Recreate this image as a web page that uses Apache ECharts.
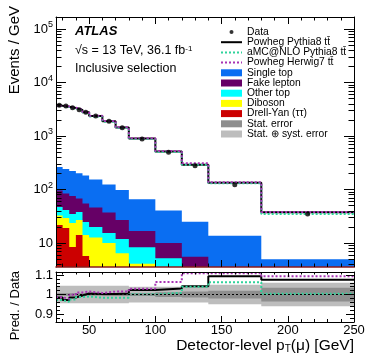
<!DOCTYPE html>
<html><head><meta charset="utf-8">
<script src="https://cdn.jsdelivr.net/npm/echarts@6/dist/echarts.min.js"></script>
<style>html,body{margin:0;padding:0;background:#fff}#c{width:374px;height:363px}</style>
</head><body><div id="c"></div><script>
// ---- data ----
const binEdges = [25,30,35,40,45,50,60,70,80,100,120,140,180,250];
const dataValues = [3750,3640,3380,3100,2770,2365,1885,1430,879,496,279,123,34.8];
const drellYan   = [21.7,19.1,8.4,14.1,5.7,2.8,2.0,1.5,1.0,0.8,0.5,0.3,0.2];
const diboson    = [11.0,10.2,15.2,12.8,8.4,9.9,8.0,4.9,3.1,2.4,2.0,1.2,0.6];
const otherTop   = [14.4,12.1,11.2,11.1,10.6,7.2,5.4,5.5,4.2,2.0,0.7,0.5,0.3];
const fakeLepton = [48.6,42.7,40.8,29.9,30.0,26.2,21.8,15.0,8.5,4.8,2.35,1.0,0.5];
const singleTop  = [168,157,146,133,128,108,87,71,49,30.5,19.5,10.6,3.35];
const ratioPowPy8 = [0.985,0.972,0.985,0.995,1.005,1.003,1.003,1.005,1.023,1.031,1.042,1.093,1.076];
const ratioAmcPy8 = [0.972,0.963,0.975,0.987,0.990,0.984,0.984,0.984,1.001,1.009,1.040,1.063,1.004];
const ratioPowH7  = [0.986,0.978,0.999,1.011,1.016,1.008,1.015,1.015,1.030,1.064,1.109,1.109,1.093];
const statErr = [0.006,0.006,0.006,0.006,0.006,0.006,0.007,0.008,0.008,0.012,0.015,0.02,0.035];
const totErr  = [0.045,0.045,0.045,0.045,0.045,0.045,0.045,0.045,0.04,0.04,0.04,0.05,0.06];
const xTickLabels = [50,100,150,200,250];
const yMainTickLabels = [10,100,1000,10000,100000];
const yRatioTickLabels = [0.9,1,1.1];

// ---- derived ----
const yMin = 3.56, yMax = 168000;
const rMin = 0.86, rMax = 1.115;
function cumulative(layers){ const out=[]; let acc=binEdges.slice(1).map(()=>0);
  layers.forEach(l=>{ acc=acc.map((a,i)=>a+l[i]); out.push(acc.slice()); }); return out; }
const cum = cumulative([drellYan, diboson, otherTop, fakeLepton, singleTop]);
const centers = dataValues.map((v,i)=>[(binEdges[i]+binEdges[i+1])/2, v]);
function steps(vals){ const p=[]; vals.forEach((v,i)=>{p.push([binEdges[i],v]);p.push([binEdges[i+1],v]);}); return p; }
const xMinor=[]; for(let v=30; v<250; v+=10){ if(v%50) xMinor.push(v); }
const yMinor=[]; [1,10,100,1000,10000,100000].forEach(d=>{ for(let k=2;k<10;k++){ const v=k*d; if(v>yMin && v<yMax) yMinor.push(v);} });
const rMinor=[]; for(let k=44;k<=55;k++){ const v=k*0.02; if(k!==45 && k!==50 && k!==55 && v>rMin && v<rMax) rMinor.push(+v.toFixed(2)); }

const FF = 'Liberation Sans, Arial, sans-serif';
function layer(name, color, top){
  return { type:'custom', name, xAxisIndex:0, yAxisIndex:0, silent:true, z:1,
    itemStyle:{color}, data:[[binEdges[0], yMin]],
    renderItem(params, api){
      const pts=[api.coord([binEdges[0], yMin])];
      top.forEach((v,i)=>{ const vv=Math.max(v,yMin); pts.push(api.coord([binEdges[i],vv])); pts.push(api.coord([binEdges[i+1],vv])); });
      pts.push(api.coord([binEdges[binEdges.length-1], yMin]));
      return {type:'polygon', shape:{points:pts}, style:{fill:color}};
    }};
}
function band(name, color, err, extra){
  return Object.assign({ type:'custom', name, xAxisIndex:4, yAxisIndex:4, silent:true, z:1,
    itemStyle:{color}, data:[[binEdges[0],1]],
    renderItem(params, api){
      const up=[], lo=[];
      err.forEach((e,i)=>{ up.push(api.coord([binEdges[i],1+e])); up.push(api.coord([binEdges[i+1],1+e]));
                           lo.push(api.coord([binEdges[i],1-e])); lo.push(api.coord([binEdges[i+1],1-e])); });
      return {type:'polygon', shape:{points: up.concat(lo.reverse())}, style:{fill:color}};
    }}, extra||{});
}
function line(name, color, type, pts, xi, yi, z){
  return { type:'line', name, xAxisIndex:xi, yAxisIndex:yi, data:pts, symbol:'none', showSymbol:false,
    lineStyle:{color, width:2, type}, itemStyle:{color}, silent:true, z };
}
function xAx(grid, pos, ticks, len, showLine, lineColor, labels){
  return { type:'value', gridIndex:grid, position:pos, min:25, max:250, z:10,
    axisLine:{show:showLine, onZero:false, lineStyle:{color:lineColor||'#000', width: lineColor?1.6:1}},
    axisTick:{show:true, inside:true, length:len, customValues:ticks, lineStyle:{color:'#000', width:1}},
    axisLabel: labels ? {show:true, customValues:labels, fontSize:13, margin:2, color:'#000', fontFamily:FF} : {show:false},
    splitLine:{show:false} };
}
function yLog(pos, ticks, len, showLine, labels){
  return { type:'log', logBase:10, gridIndex:0, position:pos, min:yMin, max:yMax, z:10,
    axisLine:{show:showLine, onZero:false, lineStyle:{color:'#000'}},
    axisTick:{show:true, inside:true, length:len, customValues:ticks, lineStyle:{color:'#000'}},
    axisLabel: labels ? {show:true, customValues:labels, margin:3, color:'#000', fontFamily:FF, fontSize:13,
        formatter:(v)=>{ const e=Math.round(Math.log10(v)); return e===1 ? '{b|10}' : '{b|10}{s|'+e+'}'; },
        rich:{ b:{fontSize:13, lineHeight:18, fontFamily:FF, color:'#000'}, s:{fontSize:9, verticalAlign:'top', lineHeight:9, fontFamily:FF, color:'#000'} } } : {show:false},
    splitLine:{show:false} };
}
function yRat(pos, ticks, len, showLine, labels){
  return { type:'value', gridIndex:1, position:pos, min:rMin, max:rMax, z:10,
    axisLine:{show:showLine, onZero:false, lineStyle:{color:'#000'}},
    axisTick:{show:true, inside:true, length:len, customValues:ticks, lineStyle:{color:'#000'}},
    axisLabel: labels ? {show:true, customValues:labels, margin:3, fontSize:13, color:'#000', fontFamily:FF,
        formatter:(v)=> Math.abs(v-1)<1e-6 ? '1' : v.toFixed(1)} : {show:false},
    splitLine:{show:false} };
}

const chart = echarts.init(document.getElementById('c'), null, {renderer:'canvas'});
const names = {pp8:'Powheg Pythia8 t\u0074\u0304', amc:'aMC@NLO Pythia8 t\u0074\u0304', h7:'Powheg Herwig7 t\u0074\u0304'};
const noSym = {opacity:0};
chart.setOption({
  animation:false, backgroundColor:'#fff',
  textStyle:{fontFamily:FF, color:'#000'},
  grid:[
    {left:56, right:20, top:17, height:250, outerBoundsMode:'none', containLabel:false},
    {left:56, right:20, top:272, height:50, outerBoundsMode:'none', containLabel:false}
  ],
  xAxis:[
    xAx(0,'bottom',xTickLabels,7,true,'#8b1c1c'),
    xAx(0,'bottom',xMinor,3.5,false),
    xAx(0,'top',xTickLabels,7,true),
    xAx(0,'top',xMinor,3.5,false),
    xAx(1,'bottom',xTickLabels,6,true,null,xTickLabels),
    xAx(1,'bottom',xMinor,3,false),
    xAx(1,'top',xTickLabels,5,true),
    xAx(1,'top',xMinor,2.5,false)
  ],
  yAxis:[
    yLog('left',yMainTickLabels,10,true,yMainTickLabels),
    yLog('left',yMinor,5.5,false),
    yLog('right',yMainTickLabels,10,true),
    yLog('right',yMinor,5.5,false),
    yRat('left',yRatioTickLabels,8,true,yRatioTickLabels),
    yRat('left',rMinor,4,false),
    yRat('right',yRatioTickLabels,8,true),
    yRat('right',rMinor,4,false)
  ],
  legend:{ left:220, top:27, padding:0, orient:'vertical', itemWidth:21, itemHeight:7, itemGap:0.2, selectedMode:false,
    textStyle:{fontSize:10.3, lineHeight:10, color:'#000', fontFamily:FF},
    data:[ {name:'Data', icon:'path://M0 0M21 7M12.5 3.5A2 2 0 1 1 8.5 3.5A2 2 0 1 1 12.5 3.5Z'},
      {name:names.pp8, itemStyle:noSym}, {name:names.amc, itemStyle:noSym}, {name:names.h7, itemStyle:noSym},
      {name:'Single top', icon:'rect'}, {name:'Fake lepton', icon:'rect'}, {name:'Other top', icon:'rect'},
      {name:'Diboson', icon:'rect'}, {name:'Drell-Yan (\u03c4\u03c4)', icon:'rect'},
      {name:'Stat. error', icon:'rect'}, {name:'Stat. \u2295 syst. error', icon:'rect'} ] },
  series:[
    layer('Single top','#0a6ef2',cum[4]),
    layer('Fake lepton','#660066',cum[3]),
    layer('Other top','#00ffff',cum[2]),
    layer('Diboson','#ffff00',cum[1]),
    layer('Drell-Yan (\u03c4\u03c4)','#cc0000',cum[0]),
    line(names.pp8,'#000','solid',steps(dataValues.map((d,i)=>d*ratioPowPy8[i])),0,0,3),
    line(names.amc,'#2fd39b','dotted',steps(dataValues.map((d,i)=>d*ratioAmcPy8[i])),0,0,4),
    line(names.h7,'#a833b4','dotted',steps(dataValues.map((d,i)=>d*ratioPowH7[i])),0,0,5),
    { type:'scatter', name:'Data', xAxisIndex:0, yAxisIndex:0, data:centers, symbol:'circle', symbolSize:5,
      itemStyle:{color:'#000'}, silent:true, z:6 },
    band('Stat. \u2295 syst. error','#bdbdbd',totErr),
    band('Stat. error','#8e8e8e',statErr,{markLine:{silent:true, symbol:'none', label:{show:false},
      lineStyle:{color:'#000', type:[2,2], width:1}, data:[{yAxis:1}]}}),
    line(names.pp8,'#000','solid',steps(ratioPowPy8),4,4,3),
    line(names.amc,'#2fd39b','dotted',steps(ratioAmcPy8),4,4,4),
    line(names.h7,'#a833b4','dotted',steps(ratioPowH7),4,4,5)
  ],
  graphic:[
    {type:'text', x:75, y:31, style:{text:'ATLAS', font:'italic bold 13px '+FF, fill:'#000', verticalAlign:'middle'}},
    {type:'text', x:75, y:51, style:{text:'\u221as = 13 TeV, 36.1 fb{s|-1}', font:'12.5px '+FF, fill:'#000', verticalAlign:'middle',
      rich:{s:{fontSize:8, verticalAlign:'top', lineHeight:8, fontFamily:FF}}}},
    {type:'text', x:75, y:69, style:{text:'Inclusive selection', font:'12.5px '+FF, fill:'#000', verticalAlign:'middle'}},
    {type:'text', x:15, y:6, rotation:Math.PI/2, style:{text:'Events / GeV', font:'15px '+FF, fill:'#000', align:'right', verticalAlign:'middle'}},
    {type:'text', x:15, y:271, rotation:Math.PI/2, style:{text:'Pred. / Data', font:'13px '+FF, fill:'#000', align:'right', verticalAlign:'middle'}},
    {type:'text', x:354, y:346, style:{text:'Detector-level p{t|T}(\u03bc) [GeV]', font:'15.5px '+FF, fill:'#000', align:'right', verticalAlign:'middle',
      rich:{t:{fontSize:10, verticalAlign:'bottom', lineHeight:10, padding:[8,0,0,0], fontFamily:FF}}}}
  ]
});
</script></body></html>
